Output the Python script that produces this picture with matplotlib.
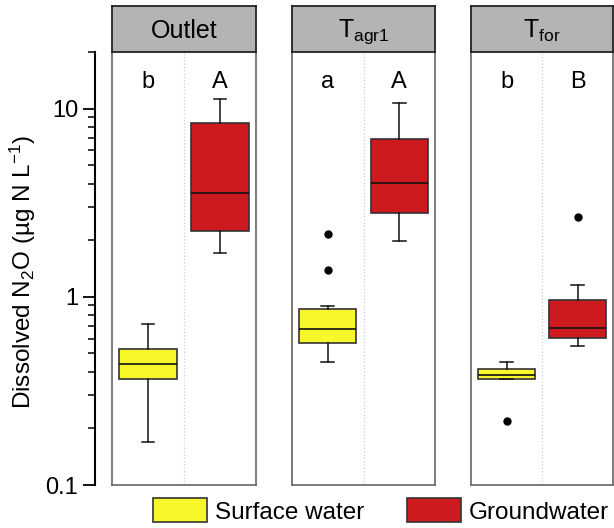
import matplotlib
matplotlib.use("Agg")
import matplotlib.pyplot as plt
from matplotlib.patches import Patch

plt.rcParams['font.family'] = ['Liberation Sans', 'DejaVu Sans']
plt.rcParams['mathtext.fontset'] = 'custom'
plt.rcParams['mathtext.rm'] = 'Liberation Sans'
plt.rcParams['mathtext.default'] = 'regular'

# ---- data ----
panels = ['Outlet', r'T$_{agr1}$', r'T$_{for}$']
groups = ['Surface water', 'Groundwater']
colors = ['#f7f72a', '#cc1a1e']
letters = [['b', 'A'], ['a', 'A'], ['b', 'B']]

# (whislo, q1, median, q3, whishi)
surface_stats = [
    (0.169, 0.365, 0.44, 0.525, 0.716),
    (0.451, 0.567, 0.676, 0.86, 0.892),
    (0.368, 0.368, 0.385, 0.412, 0.448),
]
surface_fliers = [[], [1.39, 2.15], [0.22]]
ground_stats = [
    (1.71, 2.24, 3.56, 8.36, 11.3),
    (1.99, 2.78, 4.03, 6.9, 10.7),
    (0.551, 0.605, 0.68, 0.96, 1.15),
]
ground_fliers = [[], [], [2.64]]

yticks = [0.1, 1, 10]
yticklabels = ['0.1', '1', '10']
ylim = (0.1, 20)
letter_y = 13.9

W, H = 614, 528
fig = plt.figure(figsize=(W / 100, H / 100), dpi=100)

def fx(px):
    return px / W

def fy(py):
    return 1 - py / H

ptop, pbot = 52, 485
strip_top = 6
xs = [(112, 256), (292, 435), (471, 613)]
FS = 17

def mk(st, fl):
    lo, q1, med, q3, hi = st
    return dict(whislo=lo, q1=q1, med=med, q3=q3, whishi=hi, fliers=fl)

axes = []
for i, (x0, x1) in enumerate(xs):
    ax = fig.add_axes([fx(x0), fy(pbot), fx(x1) - fx(x0), fy(ptop) - fy(pbot)])
    axes.append(ax)
    ax.set_yscale('log')
    ax.set_ylim(*ylim)
    ax.set_xlim(0.5, 2.5)
    stats = [mk(surface_stats[i], surface_fliers[i]), mk(ground_stats[i], ground_fliers[i])]
    for j, s in enumerate(stats):
        ax.bxp([s], positions=[j + 1], widths=0.8, patch_artist=True,
               boxprops=dict(facecolor=colors[j], edgecolor='#333333', linewidth=1.2),
               medianprops=dict(color='#111111', linewidth=1.2),
               whiskerprops=dict(color='#111111', linewidth=1.1),
               capprops=dict(color='#111111', linewidth=1.1),
               capwidths=0.18,
               flierprops=dict(marker='o', markerfacecolor='black', markeredgecolor='black',
                               markersize=5, linestyle='none'))
        ax.text(j + 1, letter_y, letters[i][j], ha='center', va='center', fontsize=FS)
    ax.axvline(1.5, color='#cccccc', linestyle=':', linewidth=0.9, zorder=0)
    ax.set_xticks([])
    ax.set_yticks([])
    ax.yaxis.set_minor_locator(matplotlib.ticker.NullLocator())
    for side in ['left', 'right', 'bottom']:
        ax.spines[side].set_color('#666666')
        ax.spines[side].set_linewidth(1.2)
    ax.spines['top'].set_visible(False)

    sax = fig.add_axes([fx(x0), fy(ptop), fx(x1) - fx(x0), fy(strip_top) - fy(ptop)])
    sax.set_facecolor('#b4b4b4')
    sax.set_xticks([])
    sax.set_yticks([])
    for sp in sax.spines.values():
        sp.set_color('#222222')
        sp.set_linewidth(1.3)
    sax.text(0.5, 0.45, panels[i], ha='center', va='center', fontsize=FS + 1,
             transform=sax.transAxes)

# separate y axis
yax = fig.add_axes([fx(95), fy(pbot), 0.0001, fy(ptop) - fy(pbot)])
yax.set_yscale('log')
yax.set_ylim(*ylim)
yax.set_xticks([])
for side in ['right', 'top', 'bottom']:
    yax.spines[side].set_visible(False)
yax.spines['left'].set_linewidth(1.5)
yax.spines['left'].set_color('black')
yax.set_yticks(yticks)
yax.set_yticklabels(yticklabels)
yax.tick_params(axis='y', which='major', length=9, width=1.3, labelsize=FS, pad=3)
yax.tick_params(axis='y', which='minor', length=5, width=1.1)
yax.yaxis.set_minor_locator(matplotlib.ticker.LogLocator(subs=range(2, 10)))
yax.yaxis.set_minor_formatter(matplotlib.ticker.NullFormatter())
yax.patch.set_visible(False)

fig.text(fx(23), fy(272), r'Dissolved N$_2$O (µg N L$^{-1}$)', rotation=90,
         ha='center', va='center', fontsize=17.5)

handles = [Patch(facecolor=colors[k], edgecolor='#333333', linewidth=1.2, label=groups[k])
           for k in range(2)]
fig.legend(handles=handles, loc='center left', bbox_to_anchor=(fx(153), fy(511)),
           ncol=2, frameon=False, fontsize=17.5, handlelength=2.22, handleheight=1.15,
           handletextpad=0.33, columnspacing=1.77, borderpad=0, borderaxespad=0)

fig.savefig('out.png', dpi=100)
